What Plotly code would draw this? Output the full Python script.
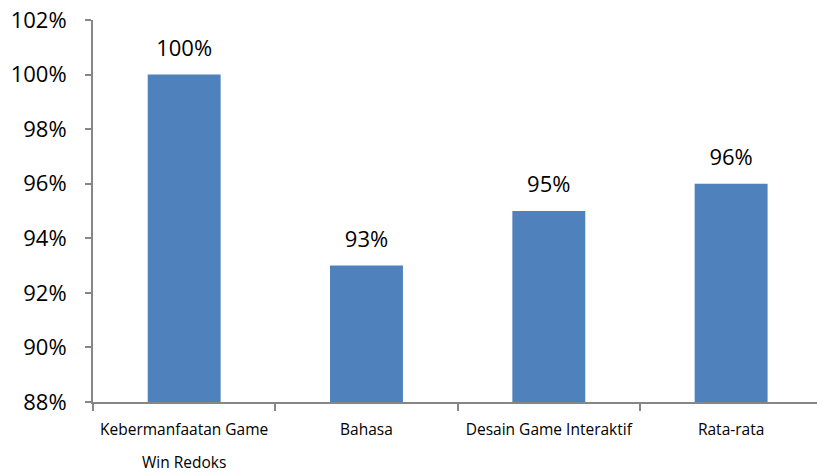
import plotly.graph_objects as go

categories = ["Kebermanfaatan Game", "Bahasa", "Desain Game Interaktif", "Rata-rata"]
category_second_lines = ["Win Redoks", "", "", ""]
values = [100, 93, 95, 96]
label_texts = ["100%", "93%", "95%", "96%"]
y_ticks = [88, 90, 92, 94, 96, 98, 100, 102]

axis_color = "#868686"
bar_color = "#4F81BD"
font_family = "Open Sans, Noto Sans, sans-serif"

fig = go.Figure()
fig.add_trace(go.Bar(
    x=categories,
    y=values,
    marker=dict(color=bar_color, line=dict(width=0)),
    width=0.4,
    hoverinfo="skip",
))
fig.add_trace(go.Scatter(
    x=categories,
    y=values,
    mode="markers+text",
    text=label_texts,
    textposition="top center",
    textfont=dict(size=22, color="#000000", family=font_family),
    marker=dict(size=20, opacity=0),
    cliponaxis=False,
    hoverinfo="skip",
))

for cat, extra in zip(categories, category_second_lines):
    if extra:
        fig.add_annotation(
            x=cat, xref="x", y=0, yref="paper",
            text=extra, showarrow=False,
            yanchor="middle", yshift=-60,
            font=dict(size=15.5, family=font_family, color="#000000"),
        )

fig.update_layout(
    width=817, height=472,
    margin=dict(l=93, r=0, t=20, b=70, autoexpand=False),
    paper_bgcolor="white", plot_bgcolor="white",
    showlegend=False,
    font=dict(family=font_family, color="#000000"),
)
fig.update_xaxes(
    type="category",
    range=[-0.5, 3.471],
    automargin=False,
    showline=True, linecolor=axis_color, linewidth=2,
    ticks="outside", tickson="boundaries", ticklen=7, tickcolor=axis_color, tickwidth=2,
    tickfont=dict(size=15.5, family=font_family),
    ticklabelstandoff=12,
    ticklabeloverflow="allow",
    showgrid=False, zeroline=False,
)
fig.update_yaxes(
    range=[88, 102],
    automargin=False,
    tickvals=y_ticks,
    ticktext=[f"{v}%" for v in y_ticks],
    showline=True, linecolor=axis_color, linewidth=2,
    ticks="outside", ticklen=6, tickcolor=axis_color, tickwidth=2,
    tickfont=dict(size=22, family=font_family),
    ticklabelstandoff=14,
    ticklabeloverflow="allow",
    showgrid=False, zeroline=False,
)

fig.write_html(
    "out.html",
    config={"displayModeBar": False},
    post_script="document.body.style.margin='0';document.body.style.overflow='hidden';",
)
